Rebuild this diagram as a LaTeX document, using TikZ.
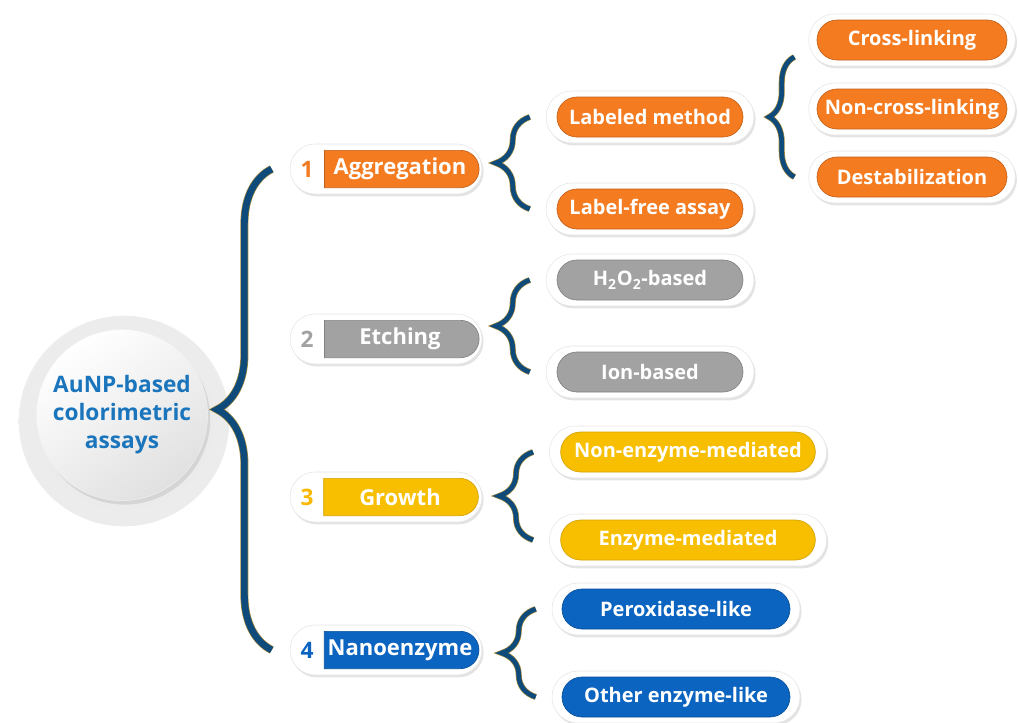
\documentclass[tikz,border=0pt]{standalone}
\usepackage{fontspec}
\setmainfont{Open Sans}
\usetikzlibrary{positioning,calc,shapes.misc,shadows,decorations.pathreplacing}
\definecolor{auorange}{HTML}{F47B20}
\definecolor{augray}{HTML}{A2A2A2}
\definecolor{augold}{HTML}{F8BF00}
\definecolor{aublue}{HTML}{0B64C0}
\definecolor{autext}{HTML}{1A75BC}
\definecolor{brnavy}{HTML}{0F4B7A}
\definecolor{brgold}{HTML}{A68A3C}
\pgfdeclareradialshading{haloshade}{\pgfpoint{0bp}{0bp}}{color(0bp)=(black!10); color(36bp)=(black!6); color(50bp)=(white)}
\tikzset{
  shell/.style={rounded rectangle, fill=white, draw=black!10, line width=0.4pt, minimum height=39pt, inner sep=0pt,
    drop shadow={opacity=0.22, shadow xshift=1.2pt, shadow yshift=-1.8pt}},
  pill/.style={rounded rectangle, text=white, font=\bfseries\fontsize{15}{17}\selectfont, minimum height=30pt, inner sep=0pt, line width=0.5pt},
  lvl/.style={pill, rounded rectangle left arc=none, minimum height=28pt, font=\bfseries\fontsize{16.5}{19}\selectfont},
  num/.style={font=\bfseries\fontsize{17}{20}\selectfont},
  org/.style={fill=auorange, draw=auorange!80!black},
  gry/.style={fill=augray, draw=augray!80!black},
  gld/.style={fill=augold, draw=augold!85!black},
  blu/.style={fill=aublue, draw=aublue!80!black},
  brc/.style={decorate, draw=brgold, line width=0.5pt, double=brnavy, double distance=3.5pt},
  bigbrc/.style={brc, double distance=5pt, decoration={brace, amplitude=41pt}},
  smbrc/.style={brc, decoration={brace, amplitude=25.5pt}},
}

\begin{document}
\begin{tikzpicture}[x=0.75pt, y=-0.75pt]
  \useasboundingbox (0,0) rectangle (1018,722);
  % centre disc
  \node[circle, minimum size=158pt, shading=haloshade] (glow) at (124,421) {};
  \node[circle, minimum size=123pt, draw=black!6, shading=axis, top color=white, bottom color=black!12, shading angle=35,
        drop shadow={opacity=0.2, shadow xshift=2pt, shadow yshift=-3pt},
        text=autext, align=center, font=\bfseries\fontsize{17}{21}\selectfont] (hub) at (122,415) {AuNP-based\\colorimetric\\assays};
  % first level
  \node[shell, minimum width=144pt, minimum height=37.5pt] (agg) at (386,169) {};
  \node[lvl, org, minimum width=116pt] (aggin) at (400,169) {Aggregation};
  \node[num, text=auorange] (aggno) at (307,169) {1};
  \node[shell, minimum width=144pt, minimum height=37.5pt] (etc) at (386,339) {};
  \node[lvl, gry, minimum width=116pt] (etcin) at (400,339) {Etching};
  \node[num, text=augray] (etcno) at (307,339) {2};
  \node[shell, minimum width=144pt, minimum height=37.5pt] (gro) at (386,497) {};
  \node[lvl, gld, minimum width=116pt] (groin) at (400,497) {Growth};
  \node[num, text=augold!90!orange] (grono) at (307,497) {3};
  \node[shell, minimum width=144pt, minimum height=37.5pt] (nano) at (386,650) {};
  \node[lvl, blu, minimum width=116pt] (nanoin) at (400,650) {Nanoenzyme};
  \node[num, text=aublue] (nanono) at (307,650) {4};
  % second level
  \node[shell, minimum width=156pt] (lab) at (650,117) {};
  \node[pill, org, minimum width=139.5pt] (labin) at (lab) {Labeled method};
  \node[shell, minimum width=156pt] (lfree) at (650,209) {};
  \node[pill, org, minimum width=139.5pt] (lfreein) at (lfree) {Label-free assay};
  \node[shell, minimum width=156pt] (hpo) at (650,280) {};
  \node[pill, gry, minimum width=139.5pt] (hpoin) at (hpo) {H\textsubscript{2}O\textsubscript{2}-based};
  \node[shell, minimum width=156pt] (ion) at (650,372) {};
  \node[pill, gry, minimum width=139.5pt] (ionin) at (ion) {Ion-based};
  \node[shell, minimum width=208pt] (nonenz) at (688,452) {};
  \node[pill, gld, minimum width=191pt] (nonenzin) at (nonenz) {Non-enzyme-mediated};
  \node[shell, minimum width=208pt] (enz) at (688,540) {};
  \node[pill, gld, minimum width=191pt] (enzin) at (enz) {Enzyme-mediated};
  \node[shell, minimum width=186pt] (perox) at (676,609) {};
  \node[pill, blu, minimum width=171pt] (peroxin) at (perox) {Peroxidase-like};
  \node[shell, minimum width=186pt] (other) at (676,697) {};
  \node[pill, blu, minimum width=171pt] (otherin) at (other) {Other enzyme-like};
  % third level
  \node[shell, minimum width=155pt] (xl) at (912,40) {};
  \node[pill, org, minimum width=142.5pt] (xlin) at (xl) {Cross-linking};
  \node[shell, minimum width=155pt] (nxl) at (912,109) {};
  \node[pill, org, minimum width=142.5pt] (nxlin) at (nxl) {Non-cross-linking};
  \node[shell, minimum width=155pt] (dst) at (912,177) {};
  \node[pill, org, minimum width=142.5pt] (dstin) at (dst) {Destabilization};
  % braces
  \draw[bigbrc] ([xshift=-13.5pt]nano.west) -- ([xshift=-13.5pt]agg.west);
  \draw[smbrc] ([xshift=-12pt]lfree.west) -- ([xshift=-12pt]lab.west);
  \draw[smbrc] ([xshift=-12pt]ion.west) -- ([xshift=-12pt]hpo.west);
  \draw[smbrc] ([xshift=-12pt]enz.west) -- ([xshift=-12pt]nonenz.west);
  \draw[smbrc] ([xshift=-12pt]other.west) -- ([xshift=-12pt]perox.west);
  \coordinate (dstb) at ([xshift=-10.5pt]dst.west);
  \coordinate (xlb) at ($(dstb)!2!(dstb |- lab)$);
  \draw[brc, decoration={brace, amplitude=19pt}] (dstb) -- (xlb);
\end{tikzpicture}
\end{document}
